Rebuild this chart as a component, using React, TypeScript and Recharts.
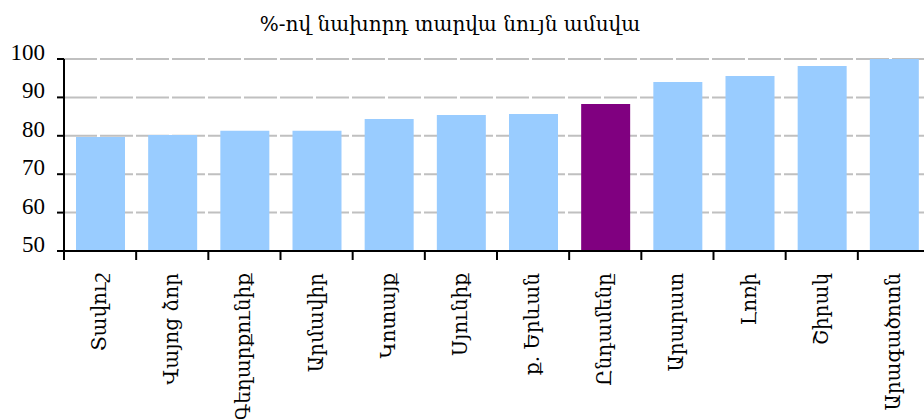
import { BarChart, Bar, XAxis, YAxis, CartesianGrid, Cell } from "recharts";

// regions, sorted as in the source chart
const regions = [
  "Տավուշ",
  "Վայոց ձոր",
  "Գեղարքունիք",
  "Արմավիր",
  "Կոտայք",
  "Սյունիք",
  "ք. Երևան",
  "Ընդամենը",
  "Արարատ",
  "Լոռի",
  "Շիրակ",
  "Արագածոտն",
];

// % of same month of the previous year
const values = [79.7, 80.2, 81.3, 81.3, 84.4, 85.4, 85.7, 88.3, 94.0, 95.6, 98.2, 100.6];

const yTicks = [50, 60, 70, 80, 90, 100];
// category boundaries, used only for the tick marks between the bars
const edgeTicks = [0, 1, 2, 3, 4, 5, 6, 7, 8, 9, 10, 11, 12];

const TOTAL = "Ընդամենը";

const data = regions.map((name, i) => ({ name, value: values[i], pos: i + 0.5 }));

const serif = "Liberation Serif, DejaVu Serif, serif";
const armenian = "DejaVu Serif, serif";

const YTick = ({ x, y, payload }: any) => (
  <text x={x} y={y + 1} textAnchor="end" fontSize={23} fontFamily={serif} fill="#000">
    {payload.value}
  </text>
);

const XTick = ({ x, y, payload }: any) => (
  <g transform={`translate(${x},${y})`}>
    <text
      transform="rotate(-90)"
      x={-12}
      y={0}
      dy="0.3em"
      textAnchor="end"
      fontSize={20}
      fontFamily={armenian}
      fill="#000"
    >
      {payload.value}
    </text>
  </g>
);

const EmptyTick = () => <g />;

const App = () => {
  return (
    <div
      style={{
        position: "absolute",
        left: 0,
        top: 0,
        width: 924,
        height: 419,
        overflow: "hidden",
        background: "#fff",
      }}
    >
      <div
        style={{
          position: "absolute",
          left: 0,
          top: 12,
          width: 900,
          textAlign: "center",
          fontFamily: armenian,
          fontSize: 20,
          lineHeight: "24px",
          color: "#000",
        }}
      >
        %-ով նախորդ տարվա նույն ամսվա
      </div>
      <BarChart
        width={940}
        height={419}
        data={data}
        margin={{ top: 59, right: 10, left: 0, bottom: 0 }}
        barSize={49}
      >
        <CartesianGrid
          vertical={false}
          stroke="#c0c0c0"
          strokeWidth={2}
          strokeDasharray="33 3"
          xAxisId="b"
        />
        <XAxis
          xAxisId="a"
          type="number"
          dataKey="pos"
          domain={[0, 12]}
          ticks={edgeTicks}
          height={1}
          tickSize={9}
          tickLine={{ stroke: "#000", strokeWidth: 2 }}
          axisLine={{ stroke: "#000", strokeWidth: 2 }}
          tick={<EmptyTick />}
          interval={0}
        />
        <XAxis
          xAxisId="b"
          dataKey="name"
          height={167}
          axisLine={false}
          tickLine={false}
          tickSize={9}
          tickMargin={0}
          interval={0}
          tick={<XTick />}
        />
        <YAxis
          width={64}
          domain={[50, 100]}
          ticks={yTicks}
          allowDataOverflow
          tickSize={7}
          tickMargin={12}
          tickLine={{ stroke: "#000", strokeWidth: 2 }}
          axisLine={{ stroke: "#000", strokeWidth: 2 }}
          tick={YTick}
        />
        <Bar dataKey="value" xAxisId="b" isAnimationActive={false}>
          {data.map((d) => (
            <Cell key={d.name} fill={d.name === TOTAL ? "#800080" : "#99ccff"} />
          ))}
        </Bar>
      </BarChart>
    </div>
  );
};

export default App;
